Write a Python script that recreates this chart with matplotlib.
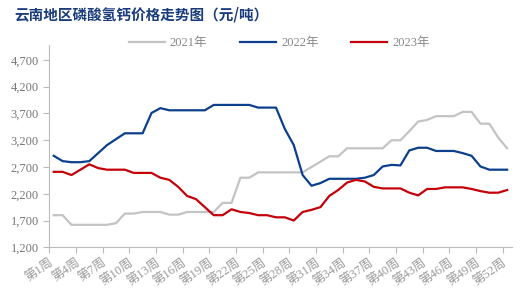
import numpy as np
import matplotlib.pyplot as plt

plt.rcParams['font.family'] = ['Liberation Serif', 'Noto Sans CJK SC']

# данные по неделям (юань/т)
weeks = [f"第{i}周" for i in range(1, 53)]
y2021 = [1800, 1800, 1620, 1620, 1620, 1620, 1620, 1650, 1830, 1830,
         1860, 1860, 1860, 1810, 1810, 1860, 1860, 1860, 1860, 2030,
         2030, 2500, 2500, 2600, 2600, 2600, 2600, 2600, 2600, 2700,
         2800, 2900, 2900, 3050, 3050, 3050, 3050, 3050, 3200, 3200,
         3370, 3550, 3580, 3650, 3650, 3650, 3730, 3730, 3510, 3510,
         3250, 3050]
y2022 = [2910, 2810, 2790, 2790, 2810, 2960, 3110, 3220, 3330, 3330,
         3330, 3710, 3800, 3760, 3760, 3760, 3760, 3760, 3860, 3860,
         3860, 3860, 3860, 3810, 3810, 3810, 3410, 3110, 2550, 2350,
         2400, 2480, 2480, 2480, 2480, 2500, 2550, 2710, 2740, 2730,
         3010, 3060, 3060, 3000, 3000, 3000, 2960, 2910, 2710, 2650,
         2650, 2650]
y2023 = [2610, 2610, 2550, 2650, 2750, 2680, 2650, 2650, 2650, 2590,
         2590, 2590, 2500, 2460, 2330, 2160, 2100, 1950, 1800, 1800,
         1910, 1860, 1840, 1800, 1800, 1760, 1760, 1700, 1860, 1900,
         1950, 2160, 2270, 2410, 2460, 2430, 2330, 2300, 2300, 2300,
         2220, 2170, 2290, 2290, 2320, 2320, 2320, 2290, 2250, 2220,
         2220, 2270]
series_names = ["2021年", "2022年", "2023年"]
colors = ["#c3c3c3", "#0c3f8c", "#c4000b"]
yticks = list(range(1200, 4701, 500))

fig = plt.figure(figsize=(5.22, 2.95), dpi=100)
ax = fig.add_axes([0.0944, 0.1617, 0.8856, 0.6858])

x = np.arange(len(weeks))
for name, vals, c in zip(series_names, [y2021, y2022, y2023], colors):
    ax.plot(x, vals, color=c, lw=1.6, label=name)

ax.set_xlim(-0.5, len(weeks) - 0.5)
ax.set_ylim(1200, 4980)
ax.set_yticks(yticks)
ax.set_yticklabels([f"{v:,}" for v in yticks])
tick_pos = np.arange(-0.5, len(weeks) - 0.5, 3)
ax.set_xticks(tick_pos)
ax.set_xticklabels(weeks[::3], rotation=35, ha='right', rotation_mode='anchor')

for s in ['top', 'right']:
    ax.spines[s].set_visible(False)
for s in ['left', 'bottom']:
    ax.spines[s].set_color('#bbbbbb')
ax.tick_params(axis='both', colors='#bbbbbb', labelcolor='#777777',
               labelsize=9, length=4, width=0.8)
ax.tick_params(axis='x', pad=3, labelcolor='#999999')

fig.text(0.027, 0.952, "云南地区磷酸氢钙价格走势图（元/吨）", fontsize=10.5,
         fontweight='bold', color='#1a3c7c', va='center',
         family=['Noto Sans CJK SC'])

fig.legend(loc='center', bbox_to_anchor=(0.535, 0.853), ncol=3, frameon=False,
           fontsize=9, handlelength=2.9, columnspacing=2.6, handletextpad=0.4,
           labelcolor='#888888')

fig.savefig("out.png", dpi=100)
